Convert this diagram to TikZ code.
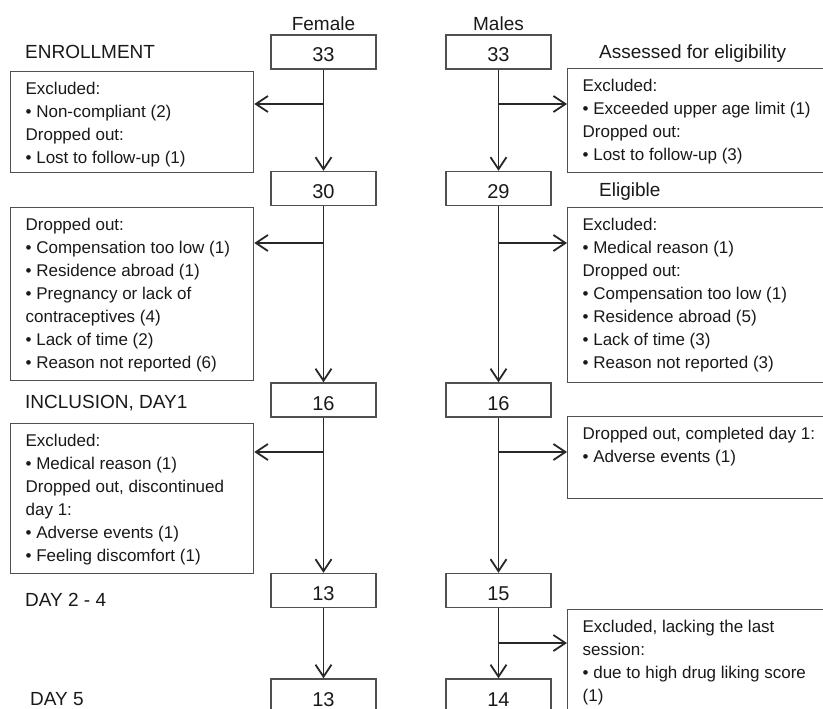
\documentclass[tikz,border=0pt]{standalone}
\usepackage{fontspec}
\setmainfont{Liberation Sans}
\usepackage{xcolor}
\usetikzlibrary{positioning,arrows.meta,calc}
\definecolor{framegray}{RGB}{80,80,80}
\definecolor{arrowgray}{RGB}{40,40,40}
\definecolor{inkgray}{RGB}{25,25,25}
\newcommand{\sidelist}[3]{\parbox[c][#2][t]{#1}{\raggedright\leftskip=15pt\vspace{7pt}\strut #3}}
\tikzset{
  countbox/.style={draw=framegray, line width=1.3pt, minimum width=105pt, minimum height=34pt,
                   inner sep=0pt, text height=20pt, text depth=0pt, text=inkgray,
                   font=\fontsize{20pt}{24pt}\selectfont},
  outbox/.style={draw=framegray, line width=1.3pt, inner sep=0pt, anchor=north west, text=inkgray,
                 font=\fontsize{17pt}{23pt}\selectfont},
  colhead/.style={text=inkgray, font=\fontsize{19pt}{23pt}\selectfont},
  stagelbl/.style={anchor=base west, inner sep=0pt, text=inkgray, font=\fontsize{19pt}{23pt}\selectfont},
  flow/.style={draw=arrowgray, line width=1.8pt, -{Straight Barb[length=12pt,width=16pt]}}
}

\begin{document}
\begin{tikzpicture}[x=1pt, y=-1pt]
\useasboundingbox (0,0) rectangle (823,709);
\node[countbox, label={[colhead]above:Female}] (f33) at (323.5,52) {33};
\node[countbox, label={[colhead]above:Males}] (m33) at (498.5,52) {33};
\node[countbox] (f30) at (323.5,188.5) {30};
\node[countbox] (m29) at (498.5,188.5) {29};
\node[countbox] (f16) at (323.5,400) {16};
\node[countbox] (m16) at (498.5,400) {16};
\node[countbox] (f13a) at (323.5,590.5) {13};
\node[countbox] (m15) at (498.5,590.5) {15};
\node[countbox] (f13b) at (323.5,696) {13};
\node[countbox] (m14) at (498.5,696) {14};
\node[stagelbl] (enrol) at (25,58.3) {ENROLLMENT};
\node[stagelbl] (incl) at (25,408.3) {INCLUSION, DAY1};
\node[stagelbl] (day24) at (25,606.7) {DAY 2 - 4};
\node[stagelbl] (day5) at (30,705.7) {DAY 5};
\node[stagelbl] (assess) at (599,58.3) {Assessed for eligibility};
\node[stagelbl] (elig) at (599,196) {Eligible};
\node[outbox] (fout1) at (10,71) {\sidelist{243pt}{101pt}{Excluded:\\ • Non-compliant (2)\\ Dropped out:\\ • Lost to follow-up (1)}};
\node[outbox] (fout2) at (10,207) {\sidelist{243pt}{173pt}{Dropped out:\\ • Compensation too low (1)\\ • Residence abroad (1)\\ • Pregnancy or lack of\\ contraceptives (4)\\ • Lack of time (2)\\ • Reason not reported (6)}};
\node[outbox] (fout3) at (10,423) {\sidelist{243pt}{150pt}{Excluded:\\ • Medical reason (1)\\ Dropped out, discontinued\\ day 1:\\ • Adverse events (1)\\ • Feeling discomfort (1)}};
\node[outbox] (mout1) at (567,68) {\sidelist{273pt}{104pt}{Excluded:\\ • Exceeded upper age limit (1)\\ Dropped out:\\ • Lost to follow-up (3)}};
\node[outbox] (mout2) at (567,207) {\sidelist{273pt}{175pt}{Excluded:\\ • Medical reason (1)\\ Dropped out:\\ • Compensation too low (1)\\ • Residence abroad (5)\\ • Lack of time (3)\\ • Reason not reported (3)}};
\node[outbox] (mout3) at (567,416) {\sidelist{273pt}{82pt}{Dropped out, completed day 1:\\ • Adverse events (1)}};
\node[outbox] (mout4) at (567,609) {\sidelist{273pt}{120pt}{Excluded, lacking the last\\ session:\\ • due to high drug liking score\\ (1)}};
\coordinate (fb1) at (323.5,104);
\coordinate (fb2) at (323.5,243);
\coordinate (fb3) at (323.5,452);
\coordinate (mb1) at (498.5,104);
\coordinate (mb2) at (498.5,243);
\coordinate (mb3) at (498.5,452);
\coordinate (mb4) at (498.5,643);
\draw[flow] (f33) -- (f30);
\draw[flow] (f30) -- (f16);
\draw[flow] (f16) -- (f13a);
\draw[flow] (f13a) -- (f13b);
\draw[flow] (m33) -- (m29);
\draw[flow] (m29) -- (m16);
\draw[flow] (m16) -- (m15);
\draw[flow] (m15) -- (m14);
\draw[flow] (fb1) -- (fb1 -| fout1.east);
\draw[flow] (fb2) -- (fb2 -| fout2.east);
\draw[flow] (fb3) -- (fb3 -| fout3.east);
\draw[flow] (mb1) -- (mb1 -| mout1.west);
\draw[flow] (mb2) -- (mb2 -| mout2.west);
\draw[flow] (mb3) -- (mb3 -| mout3.west);
\draw[flow] (mb4) -- (mb4 -| mout4.west);
\end{tikzpicture}
\end{document}
